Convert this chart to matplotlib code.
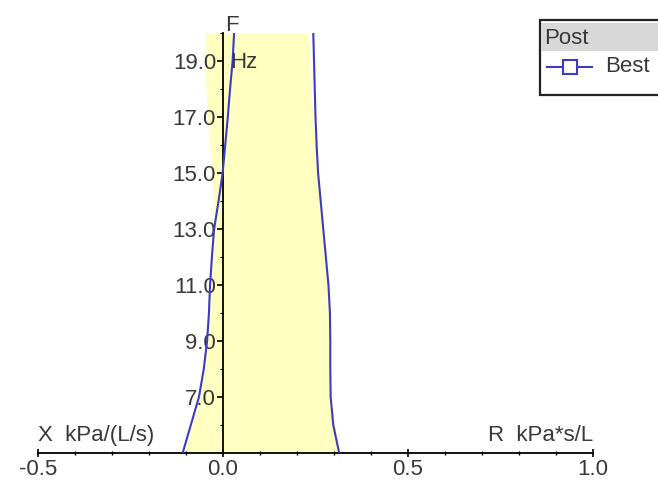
import matplotlib
matplotlib.use("Agg")
import matplotlib.pyplot as plt
from matplotlib.lines import Line2D
from matplotlib.patches import Rectangle
from matplotlib.ticker import MultipleLocator, FixedLocator

plt.rcParams['font.family'] = ['Liberation Sans', 'DejaVu Sans']

# Frequency grid (Hz)
freq = [5, 6, 7, 8, 9, 10, 11, 12, 13, 14, 15, 16, 17, 18, 19, 20]
# Reactance X, kPa/(L/s)
reactance = [-0.109, -0.087, -0.065, -0.052, -0.043, -0.038, -0.035, -0.030,
             -0.024, -0.012, -0.001, 0.006, 0.013, 0.019, 0.026, 0.030]
# Resistance R, kPa*s/L
resistance = [0.314, 0.298, 0.291, 0.290, 0.290, 0.289, 0.285, 0.278,
              0.271, 0.264, 0.257, 0.253, 0.250, 0.248, 0.246, 0.244]
# Normal band
band_freq = [5, 7, 9, 11, 13, 15, 17, 19, 20]
band_low = [-0.105, -0.062, -0.042, -0.035, -0.026, -0.030, -0.042, -0.050, -0.050]
band_high = [0.314, 0.291, 0.290, 0.285, 0.271, 0.257, 0.243, 0.233, 0.230]

y_ticks = [7, 9, 11, 13, 15, 17, 19]
x_ticks = [-0.5, 0.0, 0.5, 1.0]

series_name = "Best"
legend_title = "Post"

W, H = 658, 487
fig = plt.figure(figsize=(W / 100, H / 100), dpi=100)
ax = fig.add_axes([38 / W, 1 - 453 / H, 555 / W, 420 / H])
ax.set_xlim(-0.5, 1.0)
ax.set_ylim(5, 20)

txt = '#383838'
blue = '#3b3bc4'
fs = 16

ax.fill_betweenx(band_freq, band_low, band_high, color='#ffffc2', lw=0, zorder=1)
ax.plot(reactance, freq, color=blue, lw=1.5, zorder=4)
ax.plot(resistance, freq, color=blue, lw=1.5, zorder=4)

for s in ['top', 'right']:
    ax.spines[s].set_visible(False)
ax.spines['left'].set_position(('data', 0))
ax.spines['left'].set_linewidth(1.3)
ax.spines['bottom'].set_linewidth(1.3)
ax.spines['left'].set_zorder(3)
ax.spines['bottom'].set_zorder(3)

ax.xaxis.set_major_locator(FixedLocator(x_ticks))
ax.xaxis.set_minor_locator(MultipleLocator(0.1))
ax.set_xticklabels([f"{v:.1f}" for v in x_ticks])
ax.yaxis.set_major_locator(FixedLocator(y_ticks))
ax.yaxis.set_minor_locator(MultipleLocator(1))
ax.set_yticklabels([f"{v:.1f}" for v in y_ticks])

ax.tick_params(axis='x', which='major', direction='inout', length=6, width=1.2,
               labelsize=fs, labelcolor=txt, pad=1)
ax.tick_params(axis='x', which='minor', direction='inout', length=3, width=1)
ax.tick_params(axis='y', which='major', direction='out', length=4, width=1.2,
               labelsize=fs, labelcolor=txt, pad=1)
ax.tick_params(axis='y', which='minor', direction='out', length=2, width=0.8)

ax.text(0.005, 19.9, "F", fontsize=fs, color=txt, ha='left', va='bottom', zorder=5)
ax.text(0.018, 18.95, "Hz", fontsize=fs, color=txt, ha='left', va='center', zorder=5)
ax.text(-0.5, 5.25, "X  kPa/(L/s)", fontsize=fs, color=txt, ha='left', va='bottom')
ax.text(1.0, 5.25, "R  kPa*s/L", fontsize=fs, color=txt, ha='right', va='bottom')

# Legend box drawn in pixel coordinates of the figure
def fx(px):
    return px / W

def fy(py):
    return 1 - py / H

fig.patches.append(Rectangle((fx(540), fy(95)), fx(140), 75 / H, transform=fig.transFigure,
                             facecolor='white', edgecolor='#222222', lw=1.6, zorder=10))
fig.patches.append(Rectangle((fx(541), fy(51)), fx(120), 28 / H, transform=fig.transFigure,
                             facecolor='#d8d8d8', edgecolor='none', zorder=11))
fig.text(fx(544), fy(38), legend_title, fontsize=fs, color=txt, ha='left', va='center', zorder=12)
fig.lines.append(Line2D([fx(547), fx(592)], [fy(67), fy(67)], transform=fig.transFigure,
                        color=blue, lw=1.5, zorder=12))
fig.lines.append(Line2D([fx(570)], [fy(67)], transform=fig.transFigure, color=blue,
                        marker='s', markersize=10, markerfacecolor='white',
                        markeredgecolor=blue, markeredgewidth=1.5, lw=0, zorder=13))
fig.text(fx(605), fy(67), series_name, fontsize=fs, color=txt, ha='left', va='center', zorder=12)

fig.savefig("out.png", dpi=100)
